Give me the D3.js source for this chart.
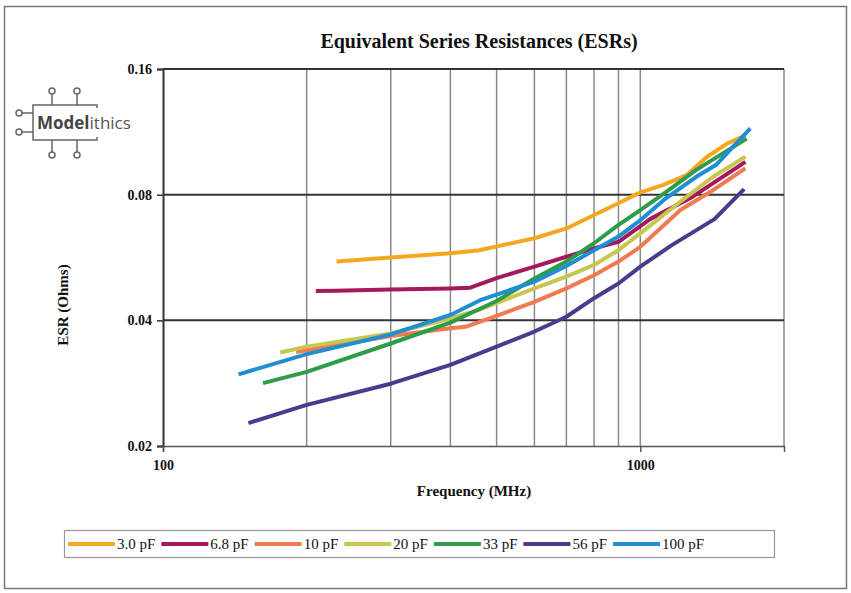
<!DOCTYPE html>
<html>
<head>
<meta charset="utf-8">
<script src="https://cdn.jsdelivr.net/npm/d3@7"></script>
<style>
  body { margin: 0; background: #fff; }
  svg { display: block; }
</style>
</head>
<body>
<svg id="chart" width="851" height="593"></svg>
<script>
// capacitor values (legend order) and colours
const seriesNames = ["3.0 pF", "6.8 pF", "10 pF", "20 pF", "33 pF", "56 pF", "100 pF"];
const seriesColors = ["#f5a81f", "#a3195b", "#f07a52", "#c9c650", "#2e9c4b", "#4b3b8c", "#1f8fd2"];

// ESR readings, [frequency MHz, ohms]
const esr3p0 = [[231, 0.0553], [300, 0.0566], [400, 0.0579], [460, 0.0589], [600, 0.0629], [700, 0.0664],
  [800, 0.0715], [900, 0.0763], [1000, 0.081], [1115, 0.0843], [1250, 0.0891], [1380, 0.0986], [1520, 0.106], [1660, 0.111]];
const esr6p8 = [[209, 0.047], [230, 0.0471], [300, 0.0474], [400, 0.0477], [440, 0.0479], [500, 0.0505], [600, 0.0538],
  [700, 0.0568], [800, 0.0595], [900, 0.0617], [1050, 0.070], [1285, 0.079], [1660, 0.0959]];
const esr10 = [[190, 0.0336], [200, 0.0339], [300, 0.0367], [400, 0.0383], [430, 0.0386], [500, 0.041], [600, 0.0443],
  [700, 0.0477], [800, 0.0513], [900, 0.0553], [1000, 0.060], [1213, 0.0735], [1420, 0.082], [1660, 0.0925]];
const esr20 = [[176, 0.0335], [200, 0.0346], [300, 0.0372], [400, 0.0404], [462, 0.0425], [600, 0.0477], [700, 0.0509],
  [800, 0.0543], [900, 0.0589], [1000, 0.0646], [1213, 0.077], [1420, 0.0883], [1660, 0.0986]];
const esr33 = [[162, 0.0283], [200, 0.0301], [300, 0.0352], [400, 0.0395], [500, 0.0445], [600, 0.0504], [700, 0.0553],
  [800, 0.0612], [900, 0.0677], [1000, 0.0735], [1120, 0.0805], [1310, 0.0917], [1670, 0.109]];
const esr56 = [[151, 0.0227], [200, 0.0251], [300, 0.0282], [400, 0.0313], [500, 0.0346], [600, 0.0376], [700, 0.0408],
  [800, 0.0452], [900, 0.049], [1000, 0.0538], [1160, 0.0604], [1430, 0.0699], [1650, 0.0825]];
const esr100 = [[144, 0.0297], [200, 0.0332], [300, 0.037], [400, 0.0412], [462, 0.0447], [600, 0.0495], [700, 0.054],
  [800, 0.0589], [900, 0.0635], [1000, 0.0695], [1120, 0.0777], [1310, 0.0883], [1440, 0.0942], [1700, 0.1153]];
const allSeries = [esr3p0, esr6p8, esr10, esr20, esr33, esr56, esr100];

const xTicks = [100, 1000];
const xMinor = [200, 300, 400, 500, 600, 700, 800, 900, 1000];
const yTicks = [0.02, 0.04, 0.08, 0.16];

const svg = d3.select("#chart");
const serif = "'Liberation Serif', 'Times New Roman', serif";

// outer frame
svg.append("rect")
  .attr("x", 4.5).attr("y", 6.5).attr("width", 842).attr("height", 582)
  .attr("fill", "none").attr("stroke", "#777").attr("stroke-width", 1.5);

const plotLeft = 163, plotRight = 784, plotTop = 69, plotBottom = 446;

const x = d3.scaleLog().domain([100, 2000]).range([plotLeft, plotRight]);
const y = d3.scaleLog().domain([0.02, 0.16]).range([plotBottom, plotTop]);

// vertical grid
svg.append("g").selectAll("line")
  .data(xMinor)
  .enter().append("line")
  .attr("x1", d => x(d)).attr("x2", d => x(d))
  .attr("y1", plotTop).attr("y2", plotBottom)
  .attr("stroke", "#8a8a8a").attr("stroke-width", 1.5);

// right border
svg.append("line")
  .attr("x1", plotRight).attr("x2", plotRight).attr("y1", plotTop).attr("y2", plotBottom)
  .attr("stroke", "#8a8a8a").attr("stroke-width", 1.5);

// horizontal grid
svg.append("g").selectAll("line")
  .data(yTicks.slice(1))
  .enter().append("line")
  .attr("x1", plotLeft).attr("x2", plotRight)
  .attr("y1", d => y(d)).attr("y2", d => y(d))
  .attr("stroke", "#333").attr("stroke-width", 2);

// Y axis
const yAxis = svg.append("g")
  .attr("transform", "translate(" + plotLeft + ",0)")
  .call(d3.axisLeft(y).tickValues(yTicks).tickFormat(d3.format(".2f")).tickSize(6).tickPadding(5));
yAxis.select(".domain").attr("stroke", "#333").attr("stroke-width", 2);
yAxis.selectAll(".tick line").attr("stroke", "#333").attr("stroke-width", 1.5);
yAxis.selectAll("text")
  .attr("font-family", serif).attr("font-size", 14).attr("font-weight", "bold").attr("fill", "#111");

// X axis
const xAxis = svg.append("g")
  .attr("transform", "translate(0," + plotBottom + ")")
  .call(d3.axisBottom(x).tickValues(xTicks).tickFormat(d3.format("d")).tickSize(6).tickPadding(8));
xAxis.select(".domain").attr("stroke", "#555").attr("stroke-width", 1.5);
xAxis.selectAll(".tick line").attr("stroke", "#555").attr("stroke-width", 1.5);
xAxis.selectAll("text")
  .attr("font-family", serif).attr("font-size", 14).attr("font-weight", "bold").attr("fill", "#111");

// series lines
const line = d3.line()
  .x(d => x(d[0]))
  .y(d => y(d[1]));

svg.append("g").selectAll("path")
  .data(allSeries)
  .enter().append("path")
  .attr("d", line)
  .attr("fill", "none")
  .attr("stroke", (d, i) => seriesColors[i])
  .attr("stroke-width", 4)
  .attr("stroke-linejoin", "round");

// titles
svg.append("text")
  .attr("x", 479).attr("y", 48)
  .attr("text-anchor", "middle")
  .attr("font-family", serif).attr("font-size", 20).attr("font-weight", "bold").attr("fill", "#111")
  .text("Equivalent Series Resistances (ESRs)");

svg.append("text")
  .attr("x", 474).attr("y", 496)
  .attr("text-anchor", "middle")
  .attr("font-family", serif).attr("font-size", 15).attr("font-weight", "bold").attr("fill", "#111")
  .text("Frequency (MHz)");

svg.append("text")
  .attr("transform", "translate(68,305) rotate(-90)")
  .attr("text-anchor", "middle")
  .attr("font-family", serif).attr("font-size", 15).attr("font-weight", "bold").attr("fill", "#111")
  .text("ESR (Ohms)");

// legend
svg.append("rect")
  .attr("x", 64.5).attr("y", 530.5).attr("width", 710).attr("height", 27)
  .attr("fill", "#fff").attr("stroke", "#999").attr("stroke-width", 1.2);

let lx = 68;
seriesNames.forEach((name, i) => {
  svg.append("line")
    .attr("x1", lx).attr("x2", lx + 47)
    .attr("y1", 544).attr("y2", 544)
    .attr("stroke", seriesColors[i]).attr("stroke-width", 4);
  const t = svg.append("text")
    .attr("x", lx + 49).attr("y", 549)
    .attr("font-family", serif).attr("font-size", 15).attr("fill", "#111")
    .text(name);
  lx += 49 + t.node().getComputedTextLength() + 6;
});

// Modelithics logo
const logo = svg.append("g").attr("stroke", "#666").attr("stroke-width", 1.5).attr("fill", "none");
logo.append("path").attr("d", "M97,108 V105 H33 V140 H97 V137");
[52, 77].forEach(px => {
  logo.append("line").attr("x1", px).attr("x2", px).attr("y1", 105).attr("y2", 94);
  logo.append("circle").attr("cx", px).attr("cy", 91).attr("r", 3).attr("fill", "#fff");
  logo.append("line").attr("x1", px).attr("x2", px).attr("y1", 140).attr("y2", 152);
  logo.append("circle").attr("cx", px).attr("cy", 155).attr("r", 3).attr("fill", "#fff");
});
[113, 132].forEach(py => {
  logo.append("line").attr("x1", 22).attr("x2", 33).attr("y1", py).attr("y2", py);
  logo.append("circle").attr("cx", 19).attr("cy", py).attr("r", 3).attr("fill", "#fff");
});
const logoText = svg.append("text")
  .attr("x", 37).attr("y", 129)
  .attr("font-family", "'Open Sans', sans-serif").attr("font-size", 17).attr("fill", "#555");
logoText.append("tspan").attr("font-weight", "bold").attr("fill", "#444").text("Model");
logoText.append("tspan").text("ithics");
</script>
</body>
</html>
